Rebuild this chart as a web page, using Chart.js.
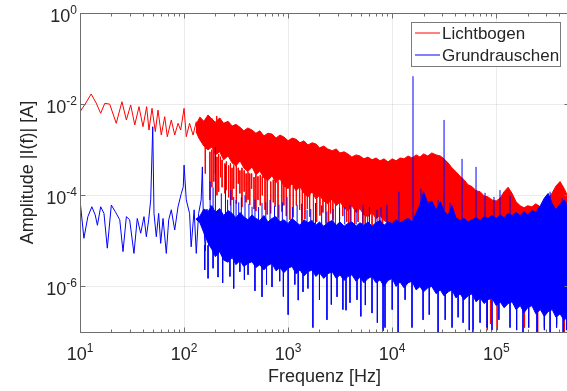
<!DOCTYPE html>
<html>
<head>
<meta charset="utf-8">
<script src="https://cdn.jsdelivr.net/npm/chart.js@4"></script>
<style>
  body { margin: 0; overflow: hidden; background: #fff; }
</style>
</head>
<body>
<canvas id="spec" width="570" height="391"></canvas>
<script>
// ---- data ----
// Lichtbogen, low-frequency part (single visible trace)
const redTraceFreq = [10, 11.2, 12.8, 14.3, 15.8, 17.3, 19.3, 22.3, 25.3, 27.9, 30.7, 33.6, 36.9, 40.3, 43.7, 46.0, 49.2, 52.9, 56.2, 60.4,
  65.2, 69.0, 75.4, 81.3, 87.5, 92.8, 100, 105, 113, 122, 131, 138, 149, 158, 167, 177, 186, 196, 206, 218, 230, 245, 258];
const redTraceAmp = [6.8e-3, 1.0e-2, 1.67e-2, 1.06e-2, 6.3e-3, 1.04e-2, 1.0e-2, 3.8e-3, 1.13e-2, 4.5e-3, 9.6e-3, 3.5e-3, 8.8e-3, 3.2e-3, 8.8e-3, 2.7e-3, 8.1e-3, 2.5e-3, 7.4e-3, 2.1e-3,
  5.3e-3, 1.93e-3, 4.5e-3, 2.1e-3, 3.8e-3, 2.7e-3, 8.1e-3, 1.93e-3, 3.8e-3, 2.1e-3, 4.1e-3, 1.8e-3, 3.9e-3, 1.16e-3, 4.5e-3, 1.5e-3, 4.8e-3, 1.3e-3, 5.5e-3, 1.1e-3, 4.2e-3, 9e-4, 3.8e-3];

// Grundrauschen, low-frequency part
const blueTraceFreq = [10, 10.9, 11.9, 13.0, 14.0, 14.7, 15.8, 17.0, 18.3, 20.0, 21.8, 24.1, 25.9, 27.9, 30.0, 33.0, 35.5, 38.3, 41.2, 43.4,
  45.7, 47.8, 50, 51.4, 54.1, 57.0, 59.6, 62.8, 67.5, 71.2, 75.4, 81.3, 87.5, 94.1, 98.3, 100, 105, 113, 117, 125,
  131, 138, 146, 150, 153, 160, 166, 172, 180, 188, 196];
const blueTraceAmp = [7.9e-5, 1.14e-5, 3.4e-5, 5.6e-5, 3.7e-5, 2.2e-5, 5.6e-5, 4.0e-5, 6.9e-6, 6.1e-5, 4.4e-5, 2.9e-5, 5.8e-6, 3.4e-5, 2.9e-5, 5.3e-6, 3.1e-5, 1.47e-5, 3.4e-5, 1.23e-5,
  2.9e-5, 7.9e-5, 3.2e-3, 4.0e-5, 1.23e-5, 4.0e-5, 8.8e-6, 3.1e-5, 5.3e-6, 2.9e-5, 4.8e-5, 1.73e-5, 5.6e-5, 1.1e-4, 1.54e-4, 4.6e-4, 7.9e-5, 4.0e-5, 7.4e-6, 4.8e-5,
  5.3e-6, 4.0e-5, 7.9e-5, 4.2e-4, 3.7e-5, 6e-6, 5e-5, 8e-6, 6e-5, 1e-5, 4.5e-5];

// dense part: upper / lower edge of the solid noise bands
const bandFreq = [130, 142, 155, 170, 185, 200, 220, 240, 265, 290, 315, 345, 375, 410, 450, 490, 535, 585, 640, 700, 765, 835, 910,
  1000, 1090, 1190, 1300, 1420, 1550, 1700, 1850, 2000, 2200, 2400, 2650, 2900, 3150, 3450, 3750, 4100, 4500, 4900, 5350, 5850, 6400, 7000, 7650, 8350, 9100,
  1e4, 1.09e4, 1.19e4, 1.3e4, 1.42e4, 1.55e4, 1.7e4, 1.85e4, 2e4, 2.2e4, 2.4e4, 2.65e4, 2.9e4, 3.15e4, 3.45e4, 3.75e4, 4.1e4, 4.5e4, 4.9e4, 5.35e4, 5.85e4, 6.4e4, 7e4, 7.65e4, 8.35e4, 9.1e4,
  1e5, 1.09e5, 1.19e5, 1.3e5, 1.42e5, 1.55e5, 1.7e5, 1.85e5, 2e5, 2.2e5, 2.4e5, 2.65e5, 2.9e5, 3.15e5, 3.45e5, 3.75e5, 4.1e5, 4.5e5, 4.9e5, 5e5];
const redHi = [3.5e-3, 5.2e-3, 4.2e-3, 5.8e-3, 4.7e-3, 4.0e-3, 5.0e-3, 3.8e-3, 4.2e-3, 3.3e-3, 3.6e-3, 3.1e-3, 2.6e-3, 3.0e-3, 2.7e-3, 2.3e-3, 2.6e-3, 2.0e-3, 2.3e-3, 2.2e-3, 1.8e-3, 2.1e-3, 1.9e-3,
  1.57e-3, 1.8e-3, 1.7e-3, 1.42e-3, 1.57e-3, 1.27e-3, 1.42e-3, 1.34e-3, 1.1e-3, 1.2e-3, 1.04e-3, 9.5e-4, 1.04e-3, 8.5e-4, 9.0e-4, 8.1e-4, 6.9e-4, 7.7e-4, 7.3e-4, 6.3e-4, 6.9e-4, 6.0e-4, 6.6e-4, 5.7e-4, 6.3e-4, 5.4e-4,
  6.3e-4, 5.7e-4, 6.6e-4, 6.3e-4, 7.3e-4, 6.6e-4, 7.7e-4, 6.9e-4, 8.1e-4, 7.3e-4, 8.5e-4, 7.7e-4, 7.3e-4, 6.3e-4, 5.1e-4, 4.0e-4, 3.3e-4, 2.6e-4, 2.2e-4, 1.7e-4, 1.55e-4, 1.26e-4, 1.2e-4, 9.7e-5, 9.2e-5, 7.9e-5,
  7.5e-5, 8.7e-5, 1.2e-4, 1.5e-4, 1.1e-4, 7.2e-5, 5.9e-5, 5.3e-5, 5.9e-5, 5.6e-5, 6.5e-5, 5.6e-5, 6.2e-5, 8.3e-5, 1.13e-4, 1.6e-4, 2.0e-4, 1.4e-4, 9.2e-5, 8.7e-5];
const redLo = [2.5e-3, 1.64e-3, 1.2e-3, 9.9e-4, 1.15e-3, 7.7e-4, 9.0e-4, 6.0e-4, 7.3e-4, 5.1e-4, 4.4e-4, 5.7e-4, 4.0e-4, 3.3e-4, 4.2e-4, 2.8e-4, 3.4e-4, 2.4e-4, 2.1e-4, 2.7e-4, 1.9e-4, 2.3e-4, 1.6e-4,
  1.4e-4, 1.8e-4, 1.26e-4, 1.55e-4, 1.1e-4, 9.2e-5, 1.2e-4, 8.3e-5, 1.0e-4, 7.5e-5, 6.5e-5, 8.3e-5, 5.9e-5, 7.2e-5, 5.3e-5, 4.6e-5, 5.9e-5, 4.2e-5, 5.1e-5, 3.7e-5, 3.4e-5, 4.2e-5, 3.1e-5, 3.6e-5, 2.8e-5, 2.5e-5,
  1.7e-5, 1.5e-5, 1.6e-5, 1.4e-5, 1.6e-5, 1.5e-5, 1.4e-5, 1.3e-5, 1.4e-5, 1.2e-5, 1.3e-5, 1.2e-5, 1.1e-5, 1.2e-5, 1.0e-5, 1.1e-5, 1.0e-5, 9e-6, 1.0e-5, 9e-6, 8e-6, 9e-6, 8e-6, 7e-6, 8e-6, 7e-6,
  6e-6, 7e-6, 6e-6, 5e-6, 6e-6, 5e-6, 5e-6, 4e-6, 5e-6, 4e-6, 4e-6, 3e-6, 4e-6, 3e-6, 3e-6, 3e-6, 2.5e-6, 3e-6, 2.5e-6, 2.5e-6];
const blueHi = [3e-5, 3.5e-5, 5e-5, 4.4e-5, 5.9e-5, 4.2e-5, 5.1e-5, 3.6e-5, 4.6e-5, 4.0e-5, 3.2e-5, 4.2e-5, 3.4e-5, 2.9e-5, 3.7e-5, 3.1e-5, 2.8e-5, 3.6e-5, 2.6e-5, 3.1e-5, 3.4e-5, 2.6e-5, 2.9e-5,
  2.4e-5, 3.1e-5, 2.6e-5, 2.2e-5, 2.9e-5, 2.5e-5, 2.8e-5, 2.2e-5, 2.6e-5, 2.1e-5, 2.5e-5, 2.8e-5, 2.2e-5, 2.6e-5, 2.1e-5, 2.4e-5, 2.6e-5, 2.1e-5, 2.5e-5, 2.2e-5, 2.6e-5, 2.1e-5, 2.5e-5, 2.8e-5, 2.2e-5, 2.6e-5,
  2.4e-5, 2.9e-5, 2.5e-5, 2.8e-5, 3.1e-5, 2.6e-5, 4.0e-5, 6.2e-5, 1.2e-4, 6.5e-5, 7.5e-5, 4.8e-5, 7.2e-5, 4.4e-5, 3.7e-5, 5.9e-5, 3.2e-5, 2.8e-5, 3.1e-5, 2.6e-5, 2.9e-5, 3.2e-5, 2.8e-5, 3.4e-5, 3.1e-5, 3.6e-5,
  3.1e-5, 3.7e-5, 3.2e-5, 4.0e-5, 3.6e-5, 4.2e-5, 3.6e-5, 4.4e-5, 3.7e-5, 4.6e-5, 4.2e-5, 5.9e-5, 8.7e-5, 1.1e-4, 6.5e-5, 4.8e-5, 6.5e-5, 7.9e-5, 5.6e-5, 5.3e-5];
const blueLo = [3e-5, 2.5e-5, 1.5e-5, 9e-6, 6.5e-6, 4.5e-6, 5.8e-6, 3.8e-6, 3.4e-6, 4.3e-6, 3.0e-6, 3.7e-6, 2.75e-6, 3.2e-6, 3.5e-6, 2.6e-6, 3.0e-6, 2.3e-6, 2.9e-6, 3.2e-6, 2.2e-6, 2.6e-6, 2.0e-6,
  2.5e-6, 2.75e-6, 1.9e-6, 2.3e-6, 1.7e-6, 2.1e-6, 2.3e-6, 1.65e-6, 2.0e-6, 1.5e-6, 1.9e-6, 2.1e-6, 1.5e-6, 1.8e-6, 1.35e-6, 1.65e-6, 1.8e-6, 1.3e-6, 1.6e-6, 1.2e-6, 1.5e-6, 1.65e-6, 1.2e-6, 1.4e-6, 1.0e-6, 1.35e-6,
  1.5e-6, 1.0e-6, 1.25e-6, 9.3e-7, 1.2e-6, 1.3e-6, 8.4e-7, 1.0e-6, 7.6e-7, 9.3e-7, 1.0e-6, 6.9e-7, 8.4e-7, 6.2e-7, 7.6e-7, 8.4e-7, 5.6e-7, 6.9e-7, 5.1e-7, 6.2e-7, 6.9e-7, 4.6e-7, 5.6e-7, 4.2e-7, 5.1e-7, 5.6e-7,
  3.8e-7, 4.6e-7, 3.4e-7, 4.2e-7, 4.6e-7, 3.1e-7, 3.8e-7, 2.65e-7, 3.4e-7, 3.8e-7, 2.5e-7, 3.1e-7, 2.2e-7, 2.8e-7, 3.1e-7, 2.1e-7, 2.5e-7, 1.8e-7, 2.3e-7, 2.1e-7];

// single spikes standing out of the bands (from / to)
const redSpikeFreq = [160, 177, 185, 193, 200, 207, 215, 224, 232, 247, 255, 268, 279, 289, 300, 318, 332, 344, 360, 378,
  395, 412, 428, 446, 470, 490, 513, 540, 565, 600, 630, 680, 720, 750, 800, 870, 910, 960, 1040, 1120,
  1200, 1290, 1370, 1450, 1530, 1610, 1750, 1880, 2020, 2160, 2300, 2450, 2560, 2690, 2850, 3120, 3350, 3650, 3800, 4000,
  4350, 4700, 5200, 5500, 5800, 6400, 6900, 7530, 8100,
  82000, 88000, 102000, 187000, 250000, 290000, 380000, 452000];
const redSpikeFrom = [1.5e-3, 9e-4, 1e-3, 1.1e-3, 8e-4, 7e-4, 8e-4, 7e-4, 6e-4, 5e-4, 5.5e-4, 4.5e-4, 5e-4, 4e-4, 4.5e-4, 4.5e-4, 4e-4, 3.5e-4, 4e-4, 3.5e-4,
  3e-4, 3.2e-4, 3e-4, 3e-4, 2.5e-4, 2.8e-4, 2.6e-4, 2.8e-4, 2.6e-4, 2.4e-4, 2.2e-4, 2e-4, 2.2e-4, 2.2e-4, 2e-4, 2e-4, 1.8e-4, 1.5e-4, 1.8e-4, 1.6e-4,
  1.5e-4, 1.6e-4, 1.3e-4, 1.2e-4, 1.2e-4, 1.4e-4, 1.1e-4, 1.3e-4, 1e-4, 1.1e-4, 9e-5, 8e-5, 8e-5, 1e-4, 7e-5, 9e-5, 6.5e-5, 7e-5, 6e-5, 6e-5,
  6e-5, 5e-5, 5e-5, 4.5e-5, 4e-5, 4.5e-5, 4e-5, 4e-5, 3.5e-5,
  3e-5, 3e-5, 3e-5, 3e-5, 3e-5, 3e-5, 3e-5, 3e-5];
const redSpikeTo = [3e-4, 7.9e-5, 1.5e-4, 2e-4, 3e-4, 1.0e-4, 1.2e-4, 2.5e-4, 1.5e-4, 1.1e-4, 1.3e-4, 9e-5, 6e-5, 7.9e-5, 1.4e-4, 6.5e-5, 1.8e-4, 1.1e-4, 5.5e-5, 1.2e-4,
  7e-5, 8e-5, 6.2e-5, 1.4e-4, 5e-5, 4.5e-5, 7.9e-5, 6e-5, 1.0e-4, 4.8e-5, 3.8e-5, 4e-5, 7e-5, 5.6e-5, 3.2e-5, 4.4e-5, 6e-5, 3.5e-5, 2.9e-5, 3.3e-5,
  6e-5, 4.8e-5, 2.8e-5, 3e-5, 5e-5, 3.4e-5, 2.7e-5, 2.6e-5, 3.6e-5, 4.2e-5, 2.4e-5, 2.5e-5, 4e-5, 2.9e-5, 2.3e-5, 2.9e-5, 3.5e-5, 2.6e-5, 2.2e-5, 2.2e-5,
  2.2e-5, 2.6e-5, 2.0e-5, 2.1e-5, 2.0e-5, 2.2e-5, 2.0e-5, 1.9e-5, 2.0e-5,
  1.1e-7, 1.5e-7, 1.1e-7, 1.25e-7, 1.0e-7, 1.25e-7, 1.5e-7, 1.0e-7];

const blueUpFreq = [178, 190, 200, 228, 250, 262, 282, 300, 316, 335, 355, 385, 420, 450, 480, 520, 561, 610, 670, 740,
  816, 880, 975, 1100, 1220, 1350, 1520, 1650, 1830, 2100, 2360, 2700, 3120, 3500, 3930, 4500, 5250, 6040, 7150, 7800,
  8900, 11600, 15850, 18900, 22600, 27600, 31500, 36000, 46900, 63900, 78000, 95100, 108600, 135600, 329000, 429000];
const blueUpFrom = [4e-5, 4e-5, 4e-5, 3.5e-5, 3.5e-5, 3e-5, 3e-5, 3e-5, 3e-5, 3e-5, 3e-5, 3e-5, 2.8e-5, 2.8e-5, 2.8e-5, 2.7e-5, 2.7e-5, 2.6e-5, 2.6e-5, 2.6e-5,
  2.5e-5, 2.5e-5, 2.5e-5, 2.5e-5, 2.5e-5, 2.4e-5, 2.4e-5, 2.4e-5, 2.3e-5, 2.3e-5, 2.3e-5, 2.3e-5, 2.3e-5, 2.3e-5, 2.3e-5, 2.3e-5, 2.3e-5, 2.3e-5, 2.3e-5, 2.3e-5,
  2.4e-5, 2.6e-5, 3e-5, 3e-5, 3e-5, 3e-5, 3e-5, 3e-5, 2.8e-5, 2.8e-5, 2.9e-5, 3e-5, 3.2e-5, 3.4e-5, 3.8e-5, 4e-5];
const blueUpTo = [2e-4, 1.5e-4, 1.15e-3, 1.1e-4, 4.6e-4, 8e-5, 1.3e-4, 9.2e-5, 7.9e-5, 7e-5, 9e-5, 1.0e-4, 6.5e-5, 5.6e-5, 8e-5, 5.5e-5, 6.8e-5, 7e-5, 7.9e-5, 5.8e-5,
  6.2e-5, 7e-5, 9.2e-5, 5.5e-5, 6.2e-5, 6.5e-5, 4.8e-5, 5e-5, 6.8e-5, 6e-5, 4.4e-5, 5e-5, 5.3e-5, 5.5e-5, 6.2e-5, 5e-5, 6.2e-5, 5.6e-5, 4.8e-5, 5.5e-5,
  6.2e-5, 1.2e-4, 4.1e-2, 1.4e-4, 7.4e-5, 7.9e-5, 4.5e-3, 6.8e-5, 6.3e-4, 4.2e-4, 1.13e-4, 9.2e-5, 1.3e-4, 1.0e-4, 1.2e-4, 8.7e-5];

const blueDownFreq = [158, 170, 190, 212, 235, 276, 300, 344, 380, 412, 480, 561, 620, 700, 830, 900, 1000, 1160, 1250, 1390,
  1550, 1730, 2000, 2360, 2600, 2950, 3360, 3600, 3930, 4590, 5000, 5520, 6400, 7200, 8170, 8530, 10000, 11400, 13300, 15500,
  19800, 22700, 27600, 32300, 37600, 43000, 48000, 55000, 59800, 69900, 81500, 91000, 106000, 135600, 157000, 180700, 205000, 246000, 290000, 329000,
  380000, 439000, 473000];
const blueDownFrom = [8e-6, 8e-6, 6e-6, 6e-6, 5e-6, 5e-6, 4e-6, 4e-6, 4e-6, 4e-6, 3.5e-6, 3.5e-6, 3.5e-6, 3.5e-6, 3e-6, 3e-6, 3e-6, 3e-6, 3e-6, 3e-6,
  2.5e-6, 2.5e-6, 2.5e-6, 2.5e-6, 2.5e-6, 2.2e-6, 2.2e-6, 2.2e-6, 2e-6, 2e-6, 2e-6, 2e-6, 2e-6, 2e-6, 1.8e-6, 1.8e-6, 1.6e-6, 1.6e-6, 1.6e-6, 1.5e-6,
  1.4e-6, 1.3e-6, 1.2e-6, 1.1e-6, 1e-6, 1e-6, 9e-7, 8e-7, 8e-7, 7e-7, 7e-7, 6e-7, 6e-7, 5e-7, 5e-7, 4.5e-7, 4.5e-7, 4e-7, 4e-7, 3.5e-7,
  3.5e-7, 3e-7, 3e-7];
const blueDownTo = [2.3e-6, 1.5e-6, 2.5e-6, 1.6e-6, 1.2e-6, 1.65e-6, 9e-7, 2.1e-6, 1.4e-6, 1.8e-6, 8e-7, 5.9e-7, 1.1e-6, 9.7e-7, 1.3e-6, 6e-7, 2.4e-7, 1.1e-6, 5e-7, 7.6e-7,
  9e-7, 1.25e-7, 5.1e-7, 1.85e-7, 4e-7, 5.9e-7, 3.1e-7, 3e-7, 4.4e-7, 5.1e-7, 2.2e-7, 3.9e-7, 2.6e-7, 1.6e-7, 1.05e-7, 1.25e-7, 3.1e-7, 1.0e-7, 5.1e-7, 1.25e-7,
  1.85e-7, 2.4e-7, 1.0e-7, 1.85e-7, 1.25e-7, 2.1e-7, 1.6e-7, 1.1e-7, 1.0e-7, 1.6e-7, 1.25e-7, 1.1e-7, 1.85e-7, 1.25e-7, 1.1e-7, 1.0e-7, 1.25e-7, 1.0e-7, 1.1e-7, 1.0e-7,
  1.25e-7, 1.0e-7, 1.1e-7];

// axis ticks (powers of ten that carry a label)
const xTickExp = [1, 2, 3, 4, 5];
const yTickExp = [0, -2, -4, -6];
const seriesNames = ['Lichtbogen', 'Grundrauschen'];

// ---- chart ----
const FONT = '"Liberation Sans", Arial, Helvetica, sans-serif';
const RED = '#ff0000', BLUE = '#0000ff', INK = '#262626', AXIS = '#6e6e6e';

const pts = (xs, ys) => xs.map((x, i) => ({x: x, y: ys[i]}));
const spikes = (xs, a, b) => xs.flatMap((x, i) => [{x: x, y: a[i]}, {x: x, y: b[i]}, {x: x, y: null}]);

function line(ctx, x1, y1, x2, y2) {
  ctx.beginPath(); ctx.moveTo(x1, y1); ctx.lineTo(x2, y2); ctx.stroke();
}

function powLabel(ctx, exp, x, base, align) {
  const e = String(exp);
  ctx.font = '18px ' + FONT;
  const w1 = ctx.measureText('10').width;
  ctx.font = '12px ' + FONT;
  const w2 = ctx.measureText(e).width;
  const left = align === 'center' ? x - (w1 + w2) / 2 : x - (w1 + w2);
  ctx.textAlign = 'left';
  ctx.textBaseline = 'alphabetic';
  ctx.fillText(e, left + w1, base - 8);
  ctx.font = '18px ' + FONT;
  ctx.fillText('10', left, base);
}

const axesPlugin = {
  id: 'matlabAxes',
  beforeDatasetsDraw(chart) {
    const {ctx, chartArea: a, scales: {x, y}} = chart;
    ctx.save();
    ctx.strokeStyle = 'rgba(0,0,0,0.08)';
    ctx.lineWidth = 1;
    xTickExp.forEach(e => {
      const px = Math.round(x.getPixelForValue(Math.pow(10, e))) + 0.5;
      line(ctx, px, a.top, px, a.bottom);
    });
    yTickExp.forEach(e => {
      const py = Math.round(y.getPixelForValue(Math.pow(10, e))) + 0.5;
      line(ctx, a.left, py, a.right, py);
    });
    ctx.restore();
  },
  afterDraw(chart) {
    const {ctx, chartArea: a, scales: {x, y}} = chart;
    const L = Math.round(a.left) + 0.5, R = Math.round(a.right) + 0.5;
    const T = Math.round(a.top) + 0.5, B = Math.round(a.bottom) + 0.5;
    ctx.save();
    ctx.strokeStyle = AXIS;
    ctx.lineWidth = 1;
    ctx.strokeRect(L, T, R - L, B - T);

    // x ticks, bottom and top, pointing inward
    for (let e = 1; e <= 5; e++) {
      for (let m = 1; m <= 9; m++) {
        const v = m * Math.pow(10, e);
        if (v > x.max) break;
        const px = Math.round(x.getPixelForValue(v)) + 0.5;
        const len = m === 1 ? 5 : 3;
        line(ctx, px, B, px, B - len);
        line(ctx, px, T, px, T + len);
      }
    }
    yTickExp.forEach(e => {
      const py = Math.round(y.getPixelForValue(Math.pow(10, e))) + 0.5;
      line(ctx, L, py, L + 5, py);
      line(ctx, R, py, R - 5, py);
    });

    // tick labels 10^n
    ctx.fillStyle = INK;
    xTickExp.forEach(e => powLabel(ctx, e, x.getPixelForValue(Math.pow(10, e)), 360, 'center'));
    yTickExp.forEach(e => powLabel(ctx, e, 77, y.getPixelForValue(Math.pow(10, e)) + 9, 'right'));

    // legend box, inside top right
    const bx = 411.5, by = 22.5, bw = 149, bh = 44;
    ctx.fillStyle = '#fff';
    ctx.fillRect(bx, by, bw, bh);
    ctx.strokeStyle = '#7a7a7a';
    ctx.strokeRect(bx, by, bw, bh);
    [RED, BLUE].forEach((c, i) => {
      const yy = 33 + i * 22;
      ctx.strokeStyle = c;
      line(ctx, 415, yy, 440, yy);
      ctx.fillStyle = INK;
      ctx.font = '17px ' + FONT;
      ctx.textAlign = 'left';
      ctx.textBaseline = 'alphabetic';
      ctx.fillText(seriesNames[i], 442, yy + 6);
    });
    ctx.restore();
  }
};

const thin = {pointRadius: 0, borderWidth: 1, tension: 0, spanGaps: false};

new Chart(document.getElementById('spec'), {
  type: 'line',
  data: {
    datasets: [
      // Lichtbogen
      {label: 'redHi', data: pts(bandFreq, redHi), fill: '+1', backgroundColor: RED, borderColor: RED, pointRadius: 0, borderWidth: 1, order: 7},
      {label: 'redLo', data: pts(bandFreq, redLo), fill: false, borderColor: RED, pointRadius: 0, borderWidth: 1, order: 7},
      {label: 'redSpikes', data: spikes(redSpikeFreq, redSpikeFrom, redSpikeTo), borderColor: RED, ...thin, order: 6},
      {label: seriesNames[0], data: pts(redTraceFreq, redTraceAmp), borderColor: RED, ...thin, order: 5},
      // Grundrauschen
      {label: 'blueHi', data: pts(bandFreq, blueHi), fill: '+1', backgroundColor: BLUE, borderColor: BLUE, pointRadius: 0, borderWidth: 1, order: 4},
      {label: 'blueLo', data: pts(bandFreq, blueLo), fill: false, borderColor: BLUE, pointRadius: 0, borderWidth: 1, order: 4},
      {label: 'blueUp', data: spikes(blueUpFreq, blueUpFrom, blueUpTo), borderColor: BLUE, ...thin, order: 3},
      {label: 'blueDown', data: spikes(blueDownFreq, blueDownFrom, blueDownTo), borderColor: BLUE, ...thin, order: 2},
      {label: seriesNames[1], data: pts(blueTraceFreq, blueTraceAmp), borderColor: BLUE, ...thin, order: 1}
    ]
  },
  options: {
    responsive: false,
    devicePixelRatio: 1,
    animation: false,
    layout: {padding: {left: 0, top: 13, right: 1, bottom: 0}},
    plugins: {legend: {display: false}, tooltip: {enabled: false}},
    scales: {
      x: {
        type: 'logarithmic', min: 10, max: 5e5,
        ticks: {display: false}, grid: {display: false}, border: {display: false},
        title: {display: true, text: 'Frequenz [Hz]', color: INK, font: {size: 18, family: FONT}, padding: {top: 0, bottom: 3}},
        afterFit(s) { s.height = 59; }
      },
      y: {
        type: 'logarithmic', min: 1e-7, max: 1,
        ticks: {display: false}, grid: {display: false}, border: {display: false},
        title: {display: true, text: 'Amplitude |I(f)| [A]', color: INK, font: {size: 18, family: FONT}, padding: {top: 17, bottom: 0}},
        afterFit(s) { s.width = 80; }
      }
    }
  },
  plugins: [axesPlugin]
});
</script>
</body>
</html>
